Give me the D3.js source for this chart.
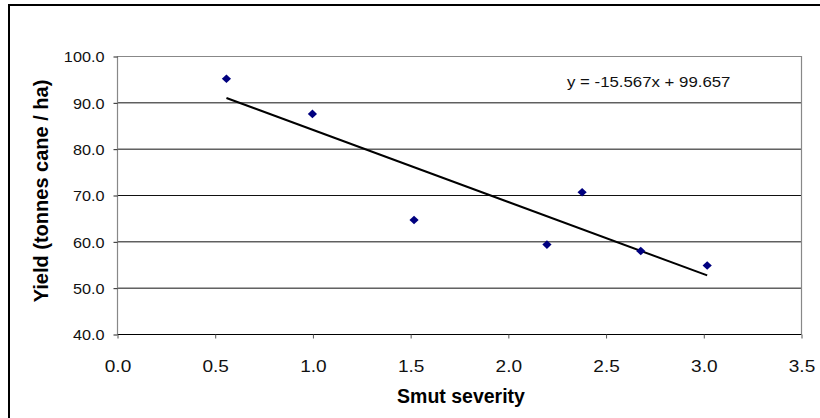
<!DOCTYPE html>
<html>
<head>
<meta charset="utf-8">
<script src="https://cdn.jsdelivr.net/npm/d3@7"></script>
<style>
  body { margin: 0; background: #fff; }
  text { font-family: "Liberation Sans", Arial, sans-serif; }
</style>
</head>
<body>
<script>
// data
const severity = [0.56, 1.0, 1.52, 2.2, 2.38, 2.68, 3.02];
const yieldVals = [95.1, 87.5, 64.6, 59.3, 70.6, 57.9, 54.8];
const xTicks = [0, 0.5, 1.0, 1.5, 2.0, 2.5, 3.0, 3.5];
const yTicks = [40, 50, 60, 70, 80, 90, 100];
const slope = -15.567, intercept = 99.657;

const width = 820, height = 418;
const stretch = 1.12; // the original text is a bit wide

const svg = d3.select("body").append("svg")
    .attr("width", width)
    .attr("height", height);

// outer chart border (runs off the right and bottom)
svg.append("rect")
    .attr("x", 9).attr("y", 5)
    .attr("width", 830).attr("height", 430)
    .attr("fill", "none")
    .attr("stroke", "#000")
    .attr("stroke-width", 2);

const x = d3.scaleLinear().domain([0, 3.5]).range([117, 801]);
const y = d3.scaleLinear().domain([40, 100]).range([334, 56]);

// gridlines
svg.append("g")
    .selectAll("line")
    .data(yTicks.slice(1, -1))
    .enter().append("line")
    .attr("x1", x(0)).attr("x2", x(3.5))
    .attr("y1", d => y(d) + 0.5).attr("y2", d => y(d) + 0.5)
    .attr("stroke", "#111")
    .attr("stroke-width", 1);

// plot frame: gray top/right/left
svg.append("path")
    .attr("d", `M${x(0) + 0.5},${y(40)} V${y(100) + 0.5} H${x(3.5) + 0.5} V${y(40)}`)
    .attr("fill", "none")
    .attr("stroke", "#888")
    .attr("stroke-width", 1.2);

// y axis
const yAxis = svg.append("g")
    .attr("transform", `translate(${x(0) + 0.5},0.5)`)
    .call(d3.axisLeft(y).tickValues(yTicks).tickSize(4).tickPadding(9).tickFormat(d3.format(".1f")));
yAxis.select(".domain").remove();
yAxis.selectAll(".tick line").attr("stroke", "#222");
yAxis.selectAll("text")
    .attr("font-size", 14.5)
    .attr("fill", "#111")
    .attr("dy", "0.36em");

// x axis
const xAxis = svg.append("g")
    .attr("transform", `translate(0.5,${y(40) + 0.5})`)
    .call(d3.axisBottom(x).tickValues(xTicks).tickSize(4).tickPadding(20).tickFormat(d3.format(".1f")));
xAxis.select(".domain").attr("stroke", "#000").attr("d", `M${x(0)},0H${x(3.5)}`);
xAxis.selectAll(".tick line").attr("stroke", "#555");
xAxis.selectAll("text")
    .attr("font-size", 17)
    .attr("fill", "#111")
    .attr("dy", "0.8em");

// trendline
svg.append("line")
    .attr("x1", x(d3.min(severity))).attr("y1", y(slope * d3.min(severity) + intercept))
    .attr("x2", x(d3.max(severity))).attr("y2", y(slope * d3.max(severity) + intercept))
    .attr("stroke", "#000")
    .attr("stroke-width", 2);

// points
svg.append("g")
    .selectAll("path")
    .data(severity)
    .enter().append("path")
    .attr("d", (d, i) => {
        const cx = x(d), cy = y(yieldVals[i]);
        return `M${cx},${cy - 4.3}L${cx + 4.6},${cy}L${cx},${cy + 4.3}L${cx - 4.6},${cy}Z`;
    })
    .attr("fill", "#00007f");

// equation label
svg.append("text")
    .attr("class", "wide")
    .attr("x", 567).attr("y", 87)
    .attr("font-size", 15)
    .attr("fill", "#111")
    .text(`y = ${slope}x + ${intercept}`);

// axis titles
svg.append("text")
    .attr("x", 461).attr("y", 403)
    .attr("text-anchor", "middle")
    .attr("font-size", 19.5)
    .attr("font-weight", "bold")
    .text("Smut severity");

svg.append("text")
    .attr("transform", "translate(47.5,191) rotate(-90)")
    .attr("text-anchor", "middle")
    .attr("font-size", 20)
    .attr("font-weight", "bold")
    .text("Yield (tonnes cane / ha)");

// widen regular text a little, like the original
svg.selectAll(".tick text, text.wide").each(function () {
    const len = this.getComputedTextLength();
    d3.select(this)
        .attr("textLength", len * stretch)
        .attr("lengthAdjust", "spacingAndGlyphs");
});
</script>
</body>
</html>
